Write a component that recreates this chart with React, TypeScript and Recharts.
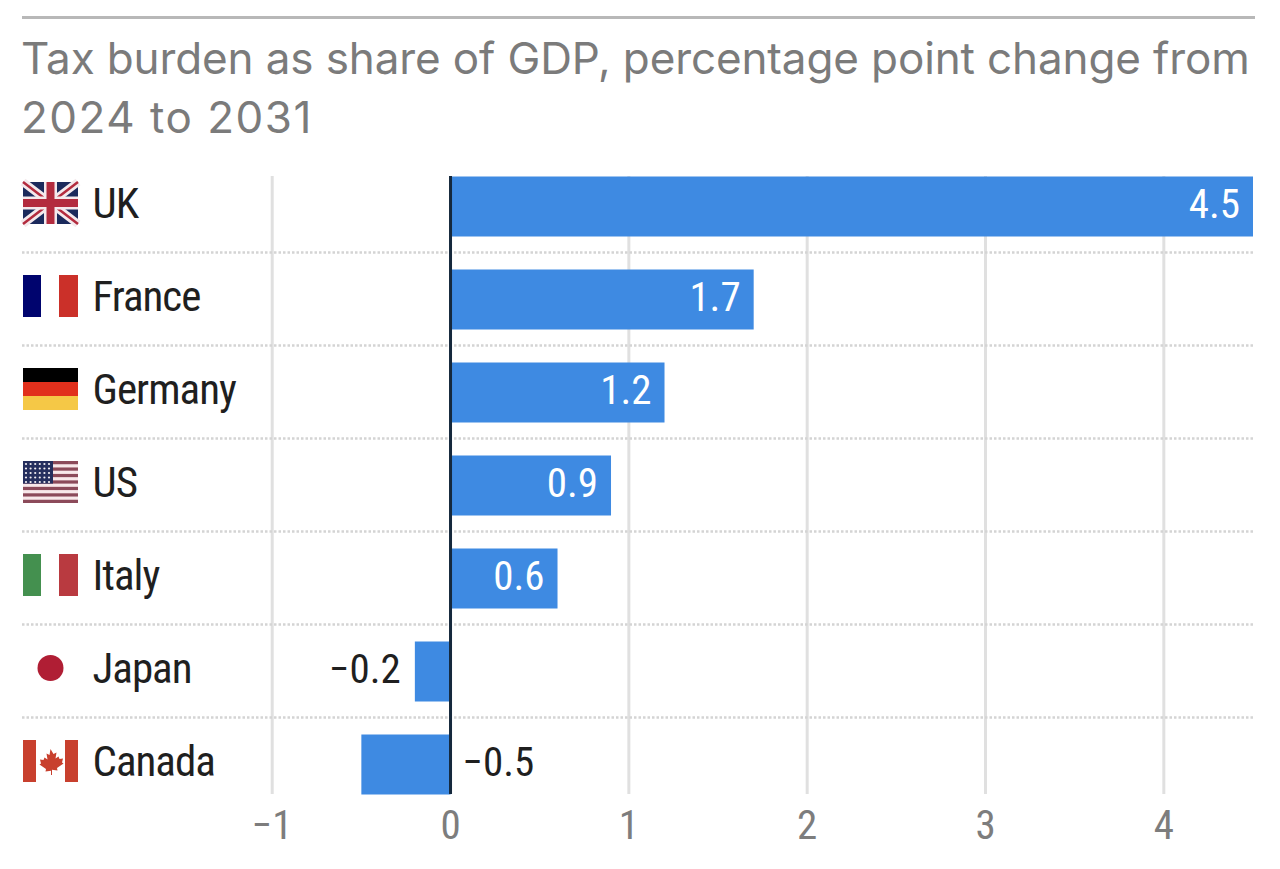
import React from 'react';
import { Bar, BarChart, CartesianGrid, LabelList, ReferenceLine, XAxis, YAxis } from 'recharts';

const countries = ['UK', 'France', 'Germany', 'US', 'Italy', 'Japan', 'Canada'];
const changes = [4.5, 1.7, 1.2, 0.9, 0.6, -0.2, -0.5];
const xTicks = [-1, 0, 1, 2, 3, 4];
const titleLines = ['Tax burden as share of GDP, percentage point change from', '2024 to 2031'];
const titleSpacing = [-0.12, 1.5];

const data = countries.map((country, i) => ({ country, change: changes[i] }));

const NARROW = '"Liberation Sans Narrow", "Roboto Condensed", "DejaVu Sans Condensed", sans-serif';
const minus = (s: string) => s.replace('-', '\u2212');

const Flag = ({ name }: { name: string }) => {
  if (name === 'UK') {
    return (
      <g>
        <rect width={55} height={42} fill="#1b2a5c" />
        <path d="M0 0L55 42M55 0L0 42" stroke="#f4e9ec" strokeWidth={8} />
        <path d="M0 0L55 42M55 0L0 42" stroke="#b32b3e" strokeWidth={2.5} />
        <path d="M27.5 0V42M0 21H55" stroke="#f4e9ec" strokeWidth={13} />
        <path d="M27.5 0V42M0 21H55" stroke="#b32b3e" strokeWidth={8} />
      </g>
    );
  }
  if (name === 'France' || name === 'Italy') {
    const [a, b] = name === 'France' ? ['#00046e', '#cb3029'] : ['#44904f', '#b93a40'];
    return (
      <g>
        <rect width={18} height={42} fill={a} />
        <rect x={36} width={19} height={42} fill={b} />
      </g>
    );
  }
  if (name === 'Germany') {
    return (
      <g>
        <rect width={55} height={14} fill="#000" />
        <rect y={14} width={55} height={14} fill="#e1301c" />
        <rect y={28} width={55} height={14} fill="#f5c846" />
      </g>
    );
  }
  if (name === 'US') {
    const stripes = Array.from({ length: 7 }, (_, i) => i);
    const stars: [number, number][] = [];
    for (let r = 0; r < 5; r++) for (let c = 0; c < 6; c++) stars.push([3 + c * 4.6, 3 + r * 4.5]);
    return (
      <g>
        <rect width={55} height={42} fill="#f8e8ea" />
        {stripes.map((i) => (
          <rect key={i} y={i * 6.46} width={55} height={3.23} fill="#8c4a5a" />
        ))}
        <rect width={30} height={22.6} fill="#252f5e" />
        {stars.map(([x, y], i) => (
          <circle key={i} cx={x} cy={y} r={1.1} fill="#f4f0f4" />
        ))}
      </g>
    );
  }
  if (name === 'Japan') {
    return <circle cx={27.5} cy={21} r={13} fill="#b01e34" />;
  }
  return (
    <g>
      <rect width={13} height={42} fill="#c8402e" />
      <rect x={42} width={13} height={42} fill="#c8402e" />
      <path
        d="M27.5 9l3 5 3-1.500-1 6 3-2 1 2.500 3.500-.500-1 4 1.500 1-6.500 4.500.500 2.500-5.500-.800V35h-1v-4.300l-5.500.800.500-2.500-6.500-4.500 1.500-1-1-4 3.500.500 1-2.500 3 2-1-6 3 1.500z"
        fill="#c8402e"
      />
    </g>
  );
};

const CountryTick = (props: any) => {
  const { y, payload } = props;
  return (
    <g>
      <g transform={`translate(23, ${y - 24})`}>
        <Flag name={payload.value} />
      </g>
      <text x={92.5} y={y - 3} dy="0.36em" fontFamily={NARROW} fontSize={43} letterSpacing={-1} fill="#1f1f1f">
        {payload.value}
      </text>
    </g>
  );
};

const ValueLabel = (props: any) => {
  const { x, y, width, height, value } = props;
  const left = Math.min(x, x + width);
  const right = Math.max(x, x + width);
  const cy = y + height / 2 - 3;
  let tx = right - 13;
  let anchor = 'end';
  let fill = '#ffffff';
  if (value < 0) {
    fill = '#1f1f1f';
    // short negative bars keep the label outside, longer ones move it across the axis
    if (value > -0.3) {
      tx = left - 14;
    } else {
      tx = right + 12;
      anchor = 'start';
    }
  }
  return (
    <text x={tx} y={cy} dy="0.36em" textAnchor={anchor as any} fontFamily={NARROW} fontSize={41} fill={fill}>
      {minus(value.toFixed(1))}
    </text>
  );
};

export default function App() {
  return (
    <div style={{ position: 'absolute', left: 0, top: 0, width: 1280, height: 869, background: '#fff' }}>
      <div style={{ position: 'absolute', left: 22, top: 16, width: 1233, height: 3, background: '#b8b8b8' }} />
      {titleLines.map((line, i) => (
        <div
          key={line}
          style={{
            position: 'absolute',
            left: 21,
            top: 29 + i * 59,
            fontFamily: 'Inter, sans-serif',
            fontSize: 44,
            letterSpacing: titleSpacing[i],
            lineHeight: '59px',
            color: '#7b7b7b',
            whiteSpace: 'nowrap',
          }}
        >
          {line}
        </div>
      ))}
      <BarChart
        width={1280}
        height={869}
        data={data}
        layout="vertical"
        barSize={60}
        margin={{ top: 176, right: 27, bottom: 0, left: 21 }}
        style={{ position: 'absolute', left: 0, top: 0 }}
      >
        <CartesianGrid horizontal={false} vertical syncWithTicks stroke="#e0e0e0" strokeWidth={3} />
        <XAxis
          type="number"
          domain={[-2.403, 4.5]}
          ticks={xTicks}
          interval={0}
          height={75}
          axisLine={false}
          tickLine={false}
          tickMargin={10}
          tickFormatter={(v: number) => minus(String(v))}
          tick={{ fill: '#7d7d7d', fontSize: 41, fontFamily: NARROW }}
        />
        <YAxis
          type="category"
          dataKey="country"
          width={1}
          interval={0}
          padding={{ top: -16.5, bottom: -16.5 }}
          axisLine={false}
          tickLine={false}
          tick={<CountryTick />}
        />
        <CartesianGrid
          vertical={false}
          horizontal
          stroke="#d4d4d4"
          strokeWidth={2.5}
          strokeDasharray="2.5 2"
          horizontalCoordinatesGenerator={({ offset }: any) =>
            countries.slice(1).map((_, i) => offset.top - 16.5 + (i + 1) * 93)
          }
        />
        <Bar dataKey="change" fill="#3e8ae2" isAnimationActive={false}>
          <LabelList dataKey="change" content={<ValueLabel />} />
        </Bar>
        <ReferenceLine x={0} stroke="#15283c" strokeWidth={3} />
      </BarChart>
    </div>
  );
}
